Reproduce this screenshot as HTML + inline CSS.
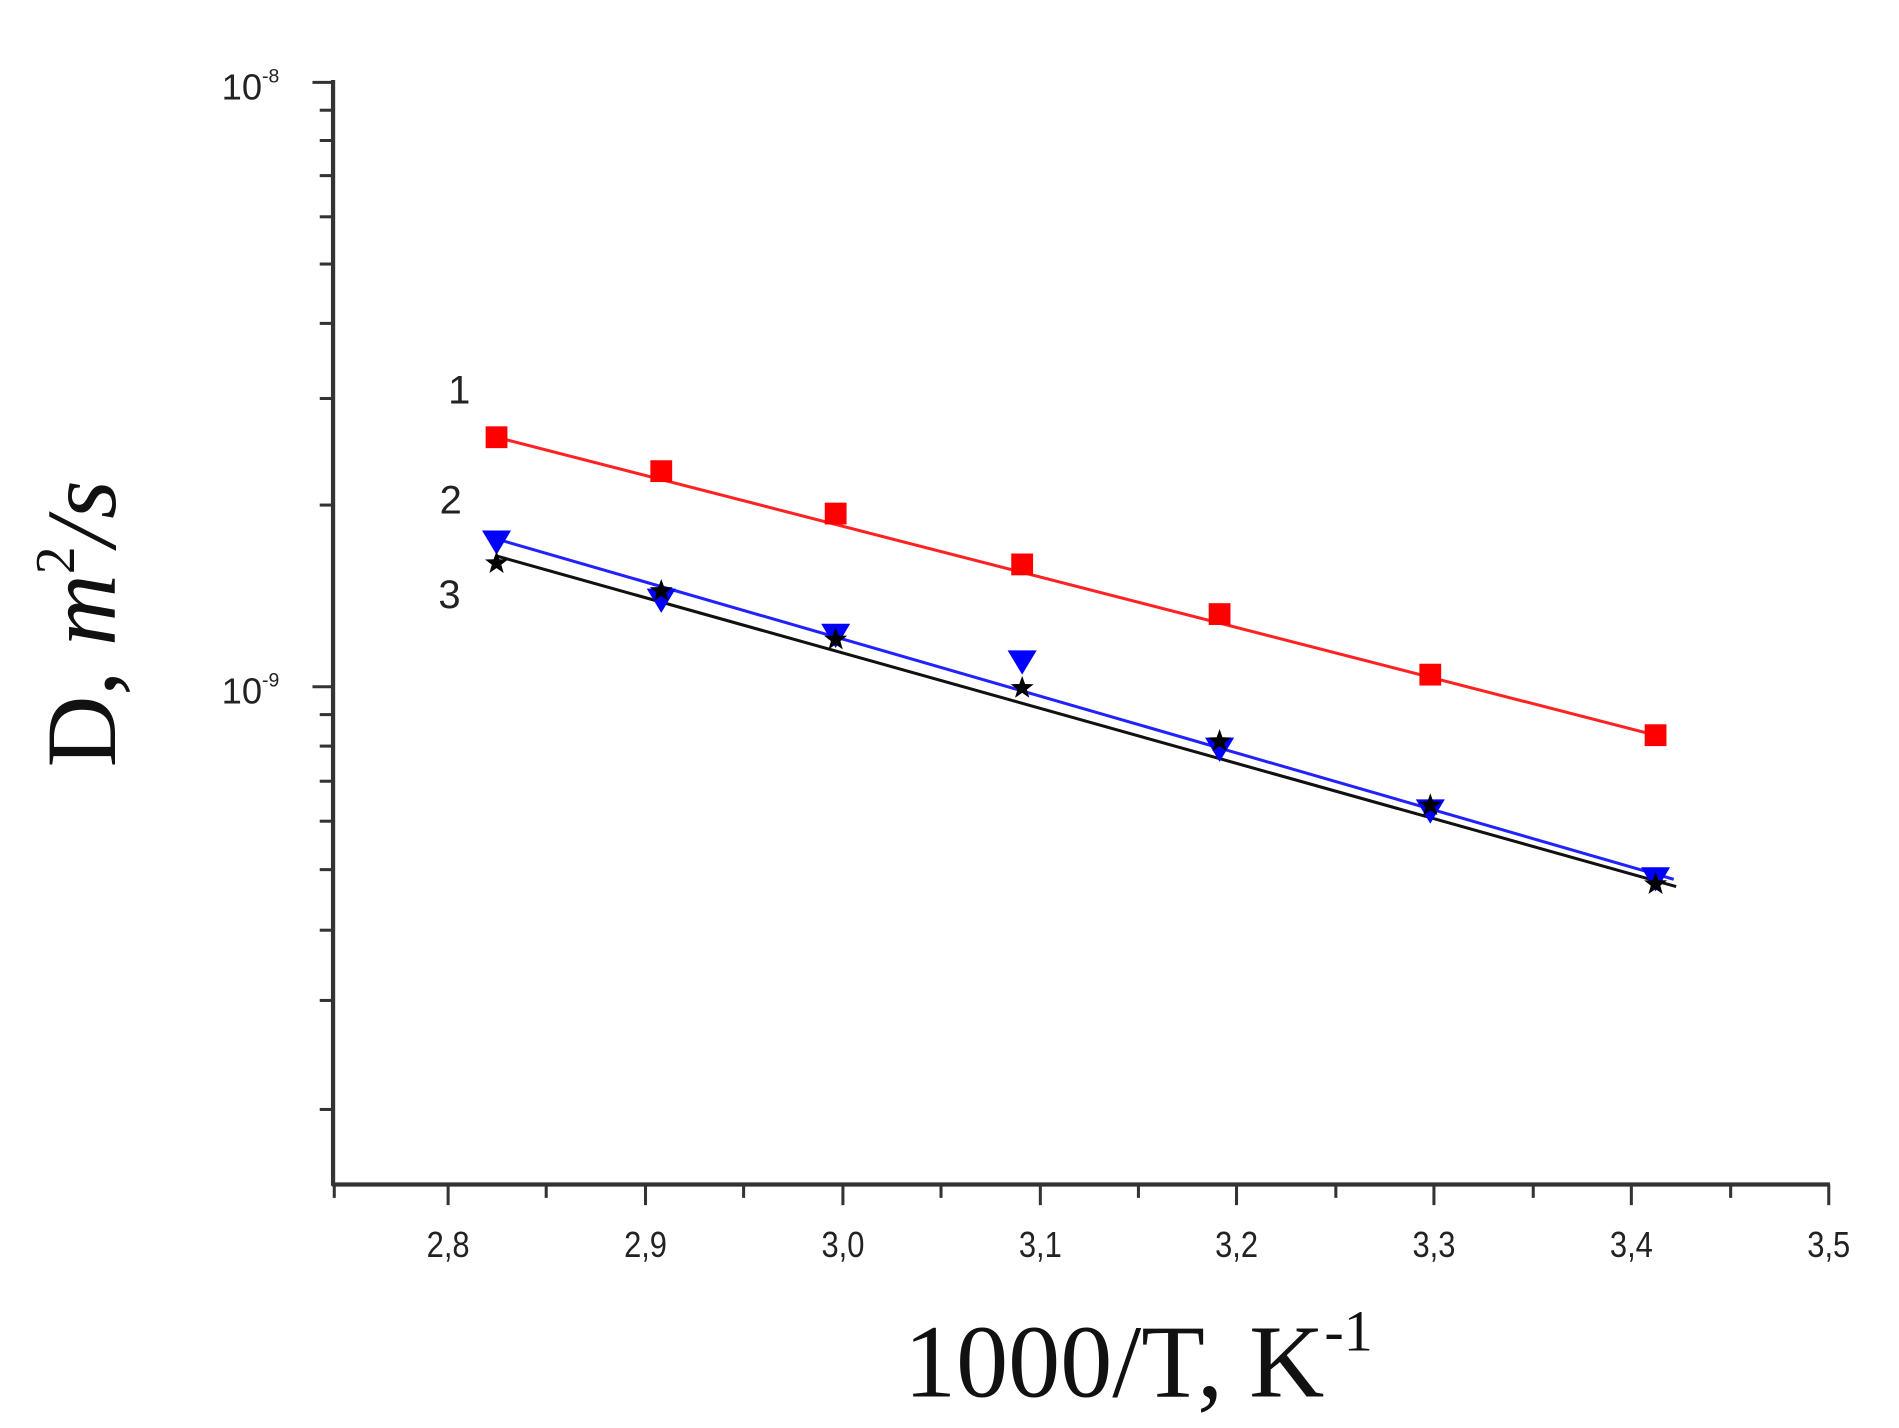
<!DOCTYPE html>
<html><head><style>html,body{margin:0;padding:0;background:#fff}svg{display:block}</style></head>
<body>
<svg width="1899" height="1428" viewBox="0 0 1568 1179" preserveAspectRatio="none" xmlns="http://www.w3.org/2000/svg">
<defs>
<path id="star" d="M0,-10 L2.4,-3.3 9.5,-3.1 3.9,1.3 5.9,8.1 0,4.1 -5.9,8.1 -3.9,1.3 -9.5,-3.1 -2.4,-3.3Z"/>
</defs>
<g stroke="#333" stroke-width="3.5" fill="none">
<line x1="275" y1="66" x2="275" y2="979"/>
<line x1="274" y1="978" x2="1511" y2="978"/>
</g>
<g stroke="#333" stroke-width="2.5">
<line x1="258" y1="68" x2="275" y2="68"/><line x1="258" y1="567" x2="275" y2="567"/>
<line x1="264" y1="91" x2="275" y2="91"/><line x1="264" y1="116" x2="275" y2="116"/><line x1="264" y1="145" x2="275" y2="145"/><line x1="264" y1="179" x2="275" y2="179"/><line x1="264" y1="218" x2="275" y2="218"/><line x1="264" y1="267" x2="275" y2="267"/><line x1="264" y1="329" x2="275" y2="329"/><line x1="264" y1="417" x2="275" y2="417"/>
<line x1="264" y1="590" x2="275" y2="590"/><line x1="264" y1="616" x2="275" y2="616"/><line x1="264" y1="645" x2="275" y2="645"/><line x1="264" y1="678" x2="275" y2="678"/><line x1="264" y1="718" x2="275" y2="718"/><line x1="264" y1="768" x2="275" y2="768"/><line x1="264" y1="826" x2="275" y2="826"/><line x1="264" y1="916" x2="275" y2="916"/>
<line x1="370" y1="978" x2="370" y2="995"/><line x1="533" y1="978" x2="533" y2="995"/><line x1="696" y1="978" x2="696" y2="995"/><line x1="859" y1="978" x2="859" y2="995"/><line x1="1021" y1="978" x2="1021" y2="995"/><line x1="1184" y1="978" x2="1184" y2="995"/><line x1="1347" y1="978" x2="1347" y2="995"/><line x1="1510" y1="978" x2="1510" y2="995"/>
<line x1="276" y1="978" x2="276" y2="989"/><line x1="451" y1="978" x2="451" y2="989"/><line x1="614" y1="978" x2="614" y2="989"/><line x1="777" y1="978" x2="777" y2="989"/><line x1="940" y1="978" x2="940" y2="989"/><line x1="1103" y1="978" x2="1103" y2="989"/><line x1="1266" y1="978" x2="1266" y2="989"/><line x1="1429" y1="978" x2="1429" y2="989"/>
</g>
<g font-family="Liberation Sans, sans-serif" font-size="30" fill="#222" text-anchor="middle">
<text transform="translate(370,1038) scale(0.85,1)">2,8</text><text transform="translate(533,1038) scale(0.85,1)">2,9</text><text transform="translate(696,1038) scale(0.85,1)">3,0</text><text transform="translate(859,1038) scale(0.85,1)">3,1</text><text transform="translate(1021,1038) scale(0.85,1)">3,2</text><text transform="translate(1184,1038) scale(0.85,1)">3,3</text><text transform="translate(1347,1038) scale(0.85,1)">3,4</text><text transform="translate(1510,1038) scale(0.85,1)">3,5</text>
</g>
<g font-family="Liberation Sans, sans-serif" font-size="30" fill="#222">
<text x="183" y="82">10<tspan font-size="16" dy="-14">-8</tspan></text>
<text x="183" y="581">10<tspan font-size="16" dy="-14">-9</tspan></text>
<text x="370" y="333" font-size="33">1</text>
<text x="363" y="424" font-size="33">2</text>
<text x="362" y="502" font-size="33">3</text>
</g>
<text transform="translate(95,515) rotate(-90)" font-family="Liberation Serif, serif" font-size="82" text-anchor="middle" fill="#111">D, <tspan font-style="italic">m</tspan><tspan font-size="46" dy="-34">2</tspan><tspan dy="34" font-style="italic">/s</tspan></text>
<text x="940" y="1153" font-family="Liberation Serif, serif" font-size="86" text-anchor="middle" fill="#111">1000/T, K<tspan font-size="48" dy="-38">-1</tspan></text>
<line x1="410" y1="361" x2="1367" y2="607" stroke="#f22" stroke-width="2.5"/>
<line x1="410" y1="445" x2="1382" y2="726" stroke="#22f" stroke-width="2.5"/>
<line x1="410" y1="459" x2="1384" y2="732" stroke="#111" stroke-width="2.5"/>
<g fill="#f00">
<rect x="401" y="352" width="18" height="18"/><rect x="537" y="380" width="18" height="18"/><rect x="681" y="415" width="18" height="18"/><rect x="835" y="457" width="18" height="18"/><rect x="998" y="498" width="18" height="18"/><rect x="1172" y="548" width="18" height="18"/><rect x="1358" y="598" width="18" height="18"/>
</g>
<g fill="#00f">
<path d="M398,438 h24 l-12,20z"/><path d="M534,486 h24 l-12,20z"/><path d="M678,515 h24 l-12,20z"/><path d="M832,537 h24 l-12,20z"/><path d="M995,609 h24 l-12,20z"/><path d="M1169,660 h24 l-12,20z"/><path d="M1355,716 h24 l-12,20z"/>
</g>
<g fill="#000">
<use href="#star" x="410" y="465"/><use href="#star" x="546" y="488"/><use href="#star" x="690" y="528"/><use href="#star" x="844" y="568"/><use href="#star" x="1007" y="612"/><use href="#star" x="1181" y="665"/><use href="#star" x="1367" y="730"/>
</g>
</svg>
</body></html>
